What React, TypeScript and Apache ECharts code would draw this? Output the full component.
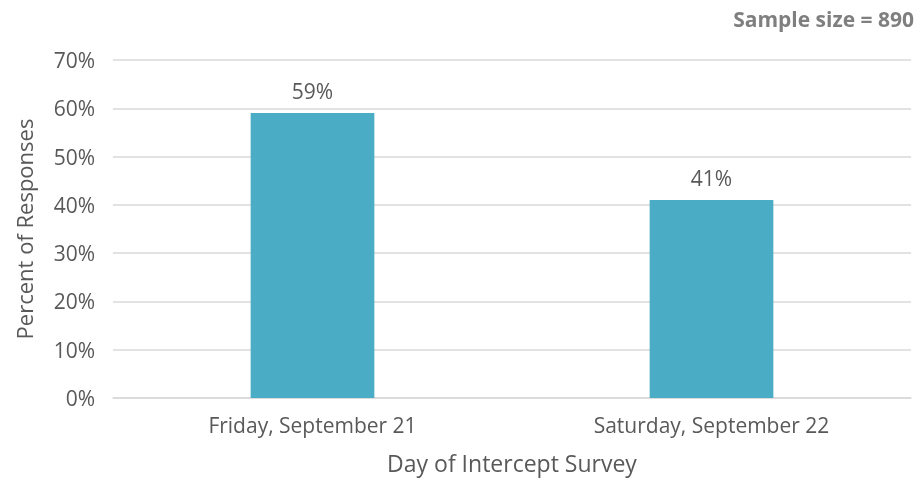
import React, { useEffect, useRef } from "react";
import * as echarts from "echarts";

const categories = ["Friday, September 21", "Saturday, September 22"];
const values = [0.59, 0.41];
const yTicks = [0, 0.1, 0.2, 0.3, 0.4, 0.5, 0.6, 0.7];
const sampleNote = "Sample size = 890";
const xTitle = "Day of Intercept Survey";
const yTitle = "Percent of Responses";

const FONT = "'Open Sans', sans-serif";
const GRAY = "#595959";

export default function App() {
  const ref = useRef<HTMLDivElement>(null);
  useEffect(() => {
    if (!ref.current) return;
    const chart = echarts.init(ref.current, undefined, { renderer: "svg" });
    chart.setOption({
      animation: false,
      textStyle: { fontFamily: FONT },
      title: {
        text: sampleNote,
        right: 5,
        top: 3,
        textStyle: { fontSize: 21, fontWeight: "bold", color: "#7f7f7f", fontFamily: FONT },
      },
      grid: { left: 113, right: 13, top: 60, bottom: 78 },
      xAxis: {
        type: "category",
        data: categories,
        name: xTitle,
        nameLocation: "middle",
        nameGap: 53,
        nameTextStyle: { fontSize: 23, color: GRAY, fontFamily: FONT },
        axisLine: { lineStyle: { color: "#d9d9d9", width: 1.5 } },
        axisTick: { show: false },
        axisLabel: { fontSize: 21, color: GRAY, margin: 16, fontFamily: FONT },
      },
      yAxis: {
        type: "value",
        min: yTicks[0],
        max: yTicks[yTicks.length - 1],
        interval: 0.1,
        name: yTitle,
        nameLocation: "middle",
        nameGap: 78,
        nameTextStyle: { fontSize: 22, color: GRAY, fontFamily: FONT },
        axisLine: { show: false },
        axisTick: { show: false },
        splitLine: { lineStyle: { color: "#d9d9d9", width: 1.5 } },
        axisLabel: {
          fontSize: 21,
          color: GRAY,
          margin: 18,
          fontFamily: FONT,
          formatter: (v: number) => Math.round(v * 100) + "%",
        },
      },
      series: [
        {
          type: "bar",
          data: values,
          barWidth: "31%",
          itemStyle: { color: "#4BACC6" },
          label: {
            show: true,
            position: "top",
            distance: 12,
            fontSize: 21,
            color: GRAY,
            fontFamily: FONT,
            formatter: (p: any) => Math.round(p.value * 100) + "%",
          },
        },
      ],
    });
    return () => chart.dispose();
  }, []);
  return (
    <div
      ref={ref}
      style={{ position: "fixed", left: 0, top: 0, width: 924, height: 479 }}
    />
  );
}
